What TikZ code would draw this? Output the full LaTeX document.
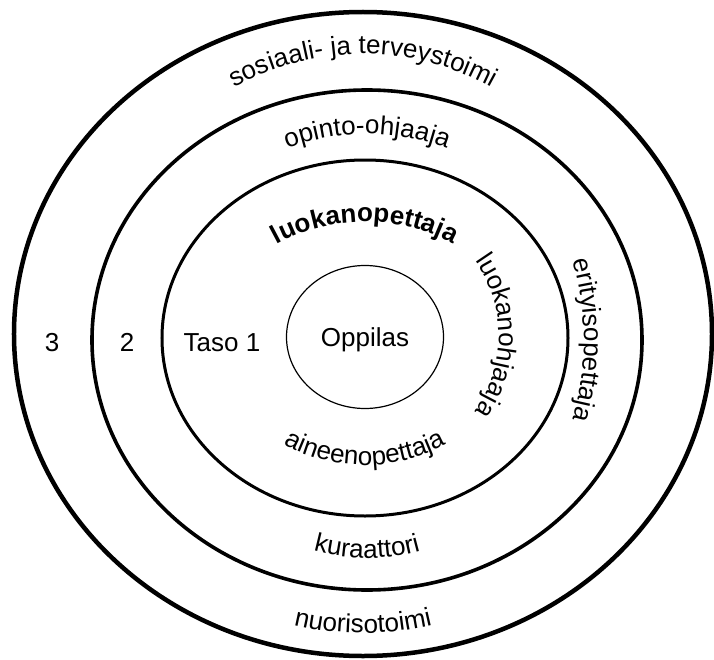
\documentclass[tikz,border=0pt]{standalone}
\usepackage{fontspec}
\setmainfont{Liberation Sans}
\usetikzlibrary{shapes.geometric, decorations.text}
\newcommand{\lbl}{\fontsize{26}{30}\selectfont}

\begin{document}
\begin{tikzpicture}[
    x=1pt, y=1pt,
    ring/.style={draw, line width=#1},
    along/.style={decorate, decoration={text along path, text align=center, text={|\lbl|#1}}},
    boldalong/.style={decorate, decoration={text along path, text align=center, text={|\lbl\bfseries|#1}}},
    every node/.style={font=\lbl}
  ]
  \path[use as bounding box, fill=white] (-365,-322) rectangle (349,337);

  % ---- rings ----
  \draw[ring=4.5pt] (-2,3) ellipse [x radius=349, y radius=322];
  \draw[ring=3.6pt] (2,-3) ellipse [x radius=275, y radius=250];
  \draw[ring=3pt]   (0,-1) ellipse [x radius=203, y radius=178];
  \node[ring=1.2pt, ellipse, minimum width=157, minimum height=143, inner sep=0pt, text depth=0pt] (oppilas) at (0,0) {Oppilas};

  % ---- level numbers ----
  \node[anchor=base] (taso3) at (-313,-14) {3};
  \node[anchor=base] (taso2) at (-238,-14) {2};
  \node[anchor=base] (taso1) at (-143,-14) {Taso 1};

  % ---- level 3 ----
  \path[along={sosiaali- ja terveystoimi}] (-2,3) ++(160:272 and 280) arc[start angle=160, end angle=20, x radius=272, y radius=280];
  \path[along={nuorisotoimi}] (-2,3) ++(200:300 and 299) arc[start angle=200, end angle=340, x radius=300, y radius=299];

  % ---- level 2 ----
  \path[along={opinto-ohjaaja}] (2,-3) ++(150:215 and 206) arc[start angle=150, end angle=30, x radius=215, y radius=206];
  \path[along={kuraattori}] (2,-3) ++(210:210 and 218) arc[start angle=210, end angle=330, x radius=210, y radius=218];
  \path[along={erityisopettaja}] (2,-3) ++(25:217 and 250) arc[start angle=25, end angle=-25, x radius=217, y radius=250];

  % ---- level 1 ----
  \path[boldalong={luokanopettaja}] (0,-1) ++(160:150 and 116) arc[start angle=160, end angle=20, x radius=150, y radius=116];
  \path[along={luokanohjaaja}] (0,1) ++(45:134 and 132) arc[start angle=45, end angle=-45, x radius=134, y radius=132];
  \path[along={aineenopettaja}] (0,-1) ++(200:150 and 127) arc[start angle=200, end angle=340, x radius=150, y radius=127];
\end{tikzpicture}
\end{document}
